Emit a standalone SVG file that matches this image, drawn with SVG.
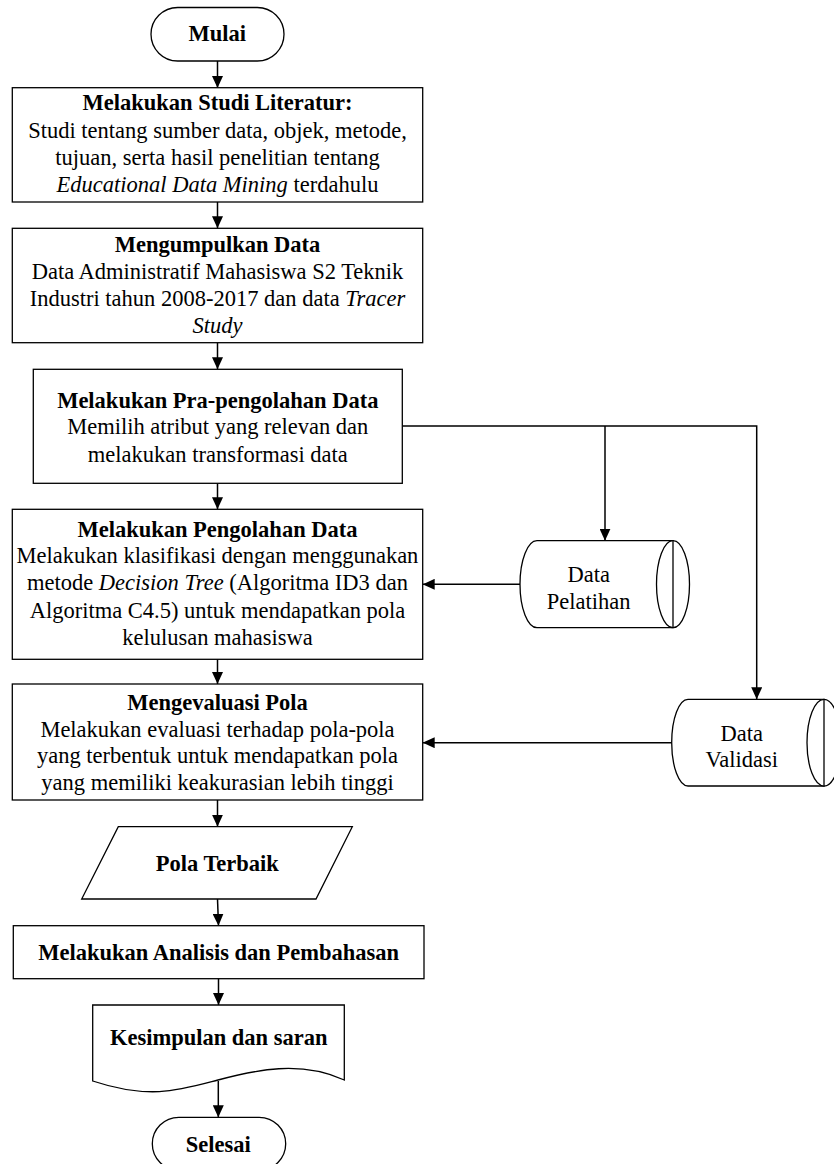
<svg xmlns="http://www.w3.org/2000/svg" width="834" height="1164" viewBox="0 0 834 1164">
<style>
.s{fill:#fff;stroke:#000;stroke-width:1.3}
.c{fill:none;stroke:#000;stroke-width:1.5}
text{font-family:"Liberation Serif","Times New Roman",serif;font-size:22.5px;fill:#000;text-anchor:middle}
.b{font-weight:bold}
.i{font-style:italic}
</style>
<defs>
<marker id="ah" markerUnits="userSpaceOnUse" markerWidth="12" markerHeight="11" refX="12" refY="5.5" orient="auto">
<path d="M0,0 L12,5.5 L0,11 Z" fill="#000"/>
</marker>
</defs>
<rect width="834" height="1164" fill="#fff"/>
<g id="connectors">
<line class="c" x1="217.5" y1="61" x2="217.5" y2="88" marker-end="url(#ah)"/>
<line class="c" x1="217.5" y1="202" x2="217.5" y2="228.3" marker-end="url(#ah)"/>
<line class="c" x1="217.5" y1="342.7" x2="217.5" y2="369.3" marker-end="url(#ah)"/>
<line class="c" x1="217.5" y1="483.3" x2="217.5" y2="509.3" marker-end="url(#ah)"/>
<line class="c" x1="217.5" y1="659.3" x2="217.5" y2="684" marker-end="url(#ah)"/>
<polyline class="c" points="402.3,426 756.7,426 756.7,699.3" marker-end="url(#ah)"/>
<line class="c" x1="605" y1="426" x2="605" y2="540.7" marker-end="url(#ah)"/>
<line class="c" x1="520" y1="584.3" x2="422.7" y2="584.3" marker-end="url(#ah)"/>
<line class="c" x1="671.7" y1="742.7" x2="422.7" y2="742.7" marker-end="url(#ah)"/>
<line class="c" x1="217.5" y1="800" x2="217.5" y2="826.7" marker-end="url(#ah)"/>
<line class="c" x1="217.5" y1="899" x2="218.5" y2="925.7" marker-end="url(#ah)"/>
<line class="c" x1="218.5" y1="978.7" x2="218.5" y2="1005" marker-end="url(#ah)"/>
<line class="c" x1="218.3" y1="1081" x2="218.3" y2="1117.3" marker-end="url(#ah)"/>
</g>
<g id="mulai">
<rect class="s" x="151" y="7.5" width="133" height="53.5" rx="26.7"/>
<text class="b" x="217.3" y="40.7">Mulai</text>
</g>
<g id="studi-literatur">
<rect class="s" x="12.3" y="87.7" width="410.4" height="114.3"/>
<text class="b" x="217.5" y="110">Melakukan Studi Literatur:</text>
<text x="217.5" y="137.5">Studi tentang sumber data, objek, metode,</text>
<text x="217.5" y="165">tujuan, serta hasil penelitian tentang</text>
<text x="217.5" y="192"><tspan class="i">Educational Data Mining</tspan> terdahulu</text>
</g>
<g id="mengumpulkan-data">
<rect class="s" x="12.3" y="228.3" width="410.4" height="114.4"/>
<text class="b" x="217.5" y="251.7">Mengumpulkan Data</text>
<text x="217.5" y="278.5">Data Administratif Mahasiswa S2 Teknik</text>
<text x="217.5" y="306">Industri tahun 2008-2017 dan data <tspan class="i">Tracer</tspan></text>
<text class="i" x="217.5" y="333">Study</text>
</g>
<g id="pra-pengolahan">
<rect class="s" x="33.3" y="369.3" width="369" height="114"/>
<text class="b" x="217.8" y="408.3">Melakukan Pra-pengolahan Data</text>
<text x="217.8" y="434">Memilih atribut yang relevan dan</text>
<text x="217.8" y="461.7">melakukan transformasi data</text>
</g>
<g id="pengolahan">
<rect class="s" x="12.3" y="509.3" width="410.4" height="150"/>
<text class="b" x="217.5" y="536.7">Melakukan Pengolahan Data</text>
<text x="217.5" y="563.3">Melakukan klasifikasi dengan menggunakan</text>
<text x="217.5" y="590">metode <tspan class="i">Decision Tree</tspan> (Algoritma ID3 dan</text>
<text x="217.5" y="618.3">Algoritma C4.5) untuk mendapatkan pola</text>
<text x="217.5" y="645">kelulusan mahasiswa</text>
</g>
<g id="evaluasi">
<rect class="s" x="12.3" y="684" width="410.4" height="116"/>
<text class="b" x="217.5" y="710">Mengevaluasi Pola</text>
<text x="217.5" y="736.7">Melakukan evaluasi terhadap pola-pola</text>
<text x="217.5" y="762.7">yang terbentuk untuk mendapatkan pola</text>
<text x="217.5" y="790">yang memiliki keakurasian lebih tinggi</text>
</g>
<g id="data-pelatihan">
<path class="s" d="M673,540.7 H537 A17,43.5 0 0 0 537,627.7 H673 Z"/>
<ellipse class="s" cx="673" cy="584.2" rx="16.5" ry="43.5"/>
<line class="s" x1="673" y1="540.7" x2="673" y2="627.7"/>
<text x="588.7" y="581.7">Data</text>
<text x="588.7" y="609.3">Pelatihan</text>
</g>
<g id="data-validasi">
<path class="s" d="M824,699.3 H688 A16.3,43.35 0 0 0 688,786 H824 Z"/>
<ellipse class="s" cx="824" cy="742.7" rx="17" ry="43.35"/>
<line class="s" x1="824" y1="699.3" x2="824" y2="786"/>
<text x="741.7" y="740.7">Data</text>
<text x="741.7" y="767.3">Validasi</text>
</g>
<g id="pola-terbaik">
<polygon class="s" points="118.3,826.7 352.3,826.7 316,899 81.7,899"/>
<text class="b" x="217.3" y="870.7">Pola Terbaik</text>
</g>
<g id="analisis">
<rect class="s" x="13.3" y="925.7" width="410.7" height="53"/>
<text class="b" x="218.6" y="960">Melakukan Analisis dan Pembahasan</text>
</g>
<g id="kesimpulan">
<path class="s" d="M92.7,1005 H344.3 V1080 C300,1060 256,1070 218,1080 C180,1090 150,1100 92.7,1081 Z"/>
<text class="b" x="218.7" y="1045">Kesimpulan dan saran</text>
</g>
<g id="selesai">
<rect class="s" x="152.3" y="1117.3" width="133.4" height="53" rx="26.5"/>
<text class="b" x="218.3" y="1151.7">Selesai</text>
</g>
</svg>
